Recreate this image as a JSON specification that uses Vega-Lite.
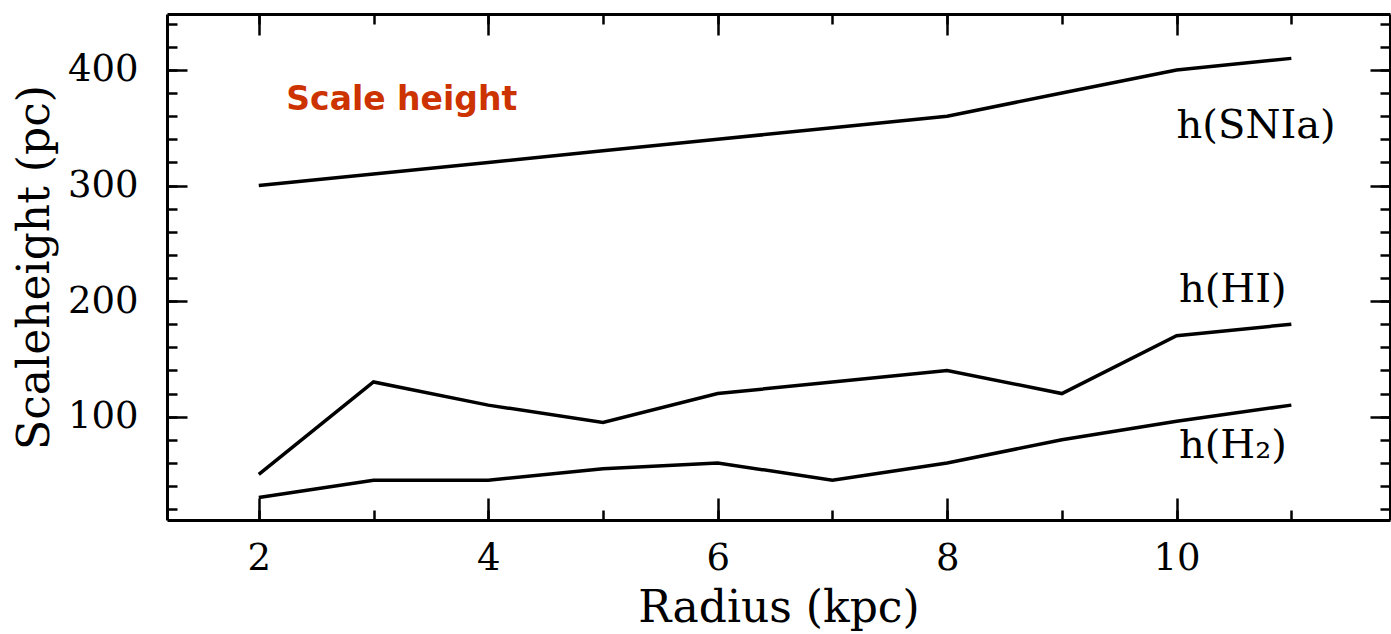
{
  "$schema": "https://vega.github.io/schema/vega-lite/v6.json",
  "autosize": {"type": "none"},
  "width": 1223,
  "height": 506,
  "padding": {"left": 167, "top": 14, "right": 1, "bottom": 114},
  "background": "white",
  "config": {
    "view": {"stroke": null},
    "axis": {"grid": false, "domainColor": "black", "domainWidth": 3, "tickColor": "black", "tickWidth": 2.5, "labelColor": "black", "titleColor": "black", "labelFont": "DejaVu Serif", "titleFont": "DejaVu Serif", "titleFontWeight": "normal"}
  },
  "datasets": {
    "series": [
      {"r": 2, "h": 300, "s": "SNIa"}, {"r": 3, "h": 310, "s": "SNIa"}, {"r": 4, "h": 320, "s": "SNIa"}, {"r": 5, "h": 330, "s": "SNIa"}, {"r": 6, "h": 340, "s": "SNIa"}, {"r": 7, "h": 350, "s": "SNIa"}, {"r": 8, "h": 360, "s": "SNIa"}, {"r": 9, "h": 380, "s": "SNIa"}, {"r": 10, "h": 400, "s": "SNIa"}, {"r": 11, "h": 410, "s": "SNIa"},
      {"r": 2, "h": 50, "s": "HI"}, {"r": 3, "h": 130, "s": "HI"}, {"r": 4, "h": 110, "s": "HI"}, {"r": 5, "h": 95, "s": "HI"}, {"r": 6, "h": 120, "s": "HI"}, {"r": 7, "h": 130, "s": "HI"}, {"r": 8, "h": 140, "s": "HI"}, {"r": 9, "h": 120, "s": "HI"}, {"r": 10, "h": 170, "s": "HI"}, {"r": 11, "h": 180, "s": "HI"},
      {"r": 2, "h": 30, "s": "H2"}, {"r": 3, "h": 45, "s": "H2"}, {"r": 4, "h": 45, "s": "H2"}, {"r": 5, "h": 55, "s": "H2"}, {"r": 6, "h": 60, "s": "H2"}, {"r": 7, "h": 45, "s": "H2"}, {"r": 8, "h": 60, "s": "H2"}, {"r": 9, "h": 80, "s": "H2"}, {"r": 10, "h": 96, "s": "H2"}, {"r": 11, "h": 110, "s": "H2"}
    ],
    "labels": [
      {"r": 10.0, "h": 341, "t": "h(SNIa)"},
      {"r": 10.02, "h": 199, "t": "h(HI)"},
      {"r": 10.02, "h": 64.6, "t": "h(H₂)"}
    ],
    "note": [
      {"r": 2.24, "h": 365.4, "t": "Scale height"}
    ]
  },
  "resolve": {"axis": {"x": "independent", "y": "independent"}},
  "layer": [
    {
      "data": {"name": "series"},
      "mark": {"type": "line", "color": "black", "strokeWidth": 3.5},
      "encoding": {
        "x": {"field": "r", "type": "quantitative", "scale": {"domain": [1.2, 11.86], "nice": false, "zero": false},
          "axis": {"orient": "bottom", "values": [2, 4, 6, 8, 10], "tickSize": -22, "labelFontSize": 37, "labelPadding": 42, "title": "Radius (kpc)", "titleFontSize": 44, "titlePadding": 10}},
        "y": {"field": "h", "type": "quantitative", "scale": {"domain": [10.6, 448.4], "nice": false, "zero": false},
          "axis": {"orient": "left", "values": [100, 200, 300, 400], "tickSize": -20, "labelFontSize": 37, "labelPadding": 49, "title": "Scaleheight (pc)", "titleFontSize": 44, "titlePadding": 10}},
        "detail": {"field": "s"}
      }
    },
    {
      "data": {"name": "series"},
      "mark": {"type": "line", "opacity": 0},
      "encoding": {
        "x": {"field": "r", "type": "quantitative",
          "axis": {"orient": "bottom", "values": [2, 3, 4, 5, 6, 7, 8, 9, 10, 11], "tickSize": -10, "labels": false, "domain": false, "title": null}},
        "y": {"field": "h", "type": "quantitative",
          "axis": {"orient": "left", "values": [20, 40, 60, 80, 100, 120, 140, 160, 180, 200, 220, 240, 260, 280, 300, 320, 340, 360, 380, 400, 420, 440], "tickSize": -10, "labels": false, "domain": false, "title": null}},
        "detail": {"field": "s"}
      }
    },
    {
      "data": {"name": "series"},
      "mark": {"type": "line", "opacity": 0},
      "encoding": {
        "x": {"field": "r", "type": "quantitative",
          "axis": {"orient": "top", "values": [2, 4, 6, 8, 10], "tickSize": -21, "labels": false, "title": null}},
        "y": {"field": "h", "type": "quantitative",
          "axis": {"orient": "right", "values": [100, 200, 300, 400], "tickSize": -20, "labels": false, "title": null}},
        "detail": {"field": "s"}
      }
    },
    {
      "data": {"name": "series"},
      "mark": {"type": "line", "opacity": 0},
      "encoding": {
        "x": {"field": "r", "type": "quantitative",
          "axis": {"orient": "top", "values": [2, 3, 4, 5, 6, 7, 8, 9, 10, 11], "tickSize": -10, "labels": false, "domain": false, "title": null}},
        "y": {"field": "h", "type": "quantitative",
          "axis": {"orient": "right", "values": [20, 40, 60, 80, 100, 120, 140, 160, 180, 200, 220, 240, 260, 280, 300, 320, 340, 360, 380, 400, 420, 440], "tickSize": -10, "labels": false, "domain": false, "title": null}},
        "detail": {"field": "s"}
      }
    },
    {
      "data": {"name": "labels"},
      "mark": {"type": "text", "font": "DejaVu Serif", "fontSize": 40, "align": "left", "baseline": "alphabetic", "color": "black"},
      "encoding": {
        "x": {"field": "r", "type": "quantitative", "axis": null},
        "y": {"field": "h", "type": "quantitative", "axis": null},
        "text": {"field": "t"}
      }
    },
    {
      "data": {"name": "note"},
      "mark": {"type": "text", "font": "DejaVu Sans", "fontWeight": "bold", "fontSize": 33, "align": "left", "baseline": "alphabetic", "color": "#CC3300"},
      "encoding": {
        "x": {"field": "r", "type": "quantitative", "axis": null},
        "y": {"field": "h", "type": "quantitative", "axis": null},
        "text": {"field": "t"}
      }
    }
  ]
}
